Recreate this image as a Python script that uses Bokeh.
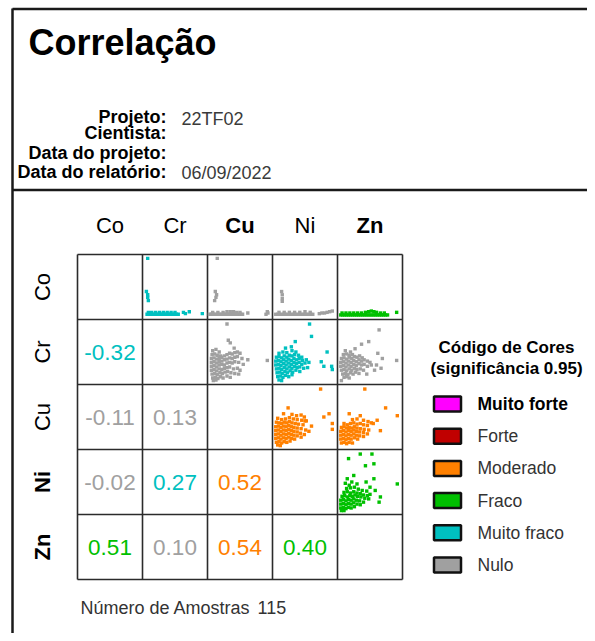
import numpy as np
from bokeh.plotting import figure
from bokeh.models import Range1d
from bokeh.core.properties import value
from bokeh.embed import file_html
from bokeh.resources import INLINE

# ---------------- data ----------------
elements = ["Co", "Cr", "Cu", "Ni", "Zn"]
pair_row = ["Co", "Co", "Co", "Co", "Cr", "Cr", "Cr", "Cu", "Cu", "Ni"]
pair_col = ["Cr", "Cu", "Ni", "Zn", "Cu", "Ni", "Zn", "Ni", "Zn", "Zn"]
corr_r = [-0.32, -0.11, -0.02, 0.51, 0.13, 0.27, 0.10, 0.52, 0.54, 0.40]
corr_class = ["Muito fraco", "Nulo", "Nulo", "Fraco", "Nulo", "Muito fraco",
              "Nulo", "Moderado", "Moderado", "Fraco"]

legend_labels = ["Muito forte", "Forte", "Moderado", "Fraco", "Muito fraco", "Nulo"]
legend_colors = ["#FF00FF", "#C00000", "#FF8000", "#00C000", "#00C0C0", "#A0A0A0"]

n_samples = 115
header_labels = ["Projeto:", "Cientista:", "Data do projeto:", "Data do relatório:"]
header_values = ["22TF02", "", "", "06/09/2022"]

# scatter clouds, in percent of each cell (x: left->right, y: bottom->top)
co_cr_x = [8, 6, 8, 8, 9, 7, 10, 13, 16, 19, 22, 25, 28, 31, 34, 37, 40, 43, 46, 49, 52, 55,
           9, 14, 20, 26, 32, 38, 44, 50, 63, 66, 72, 92]
co_cr_y = [94, 43, 38, 34, 29, 8, 8, 8, 8, 8, 8, 8, 8, 8, 8, 8, 8, 8, 8, 8, 8, 8,
           11, 11, 11, 11, 11, 11, 11, 11, 11, 9, 12, 9]

co_cu_x = [15, 12, 14, 13, 11, 3, 6, 9, 12, 15, 18, 21, 24, 27, 30, 33, 36, 39, 42, 45, 48, 51, 54,
           8, 16, 24, 30, 35, 40, 45, 50, 62, 90, 93, 92]
co_cu_y = [94, 43, 38, 34, 29, 8, 8, 8, 8, 8, 8, 8, 8, 8, 8, 8, 8, 8, 8, 8, 8, 8, 8,
           11, 11, 11, 12, 12, 12, 11, 11, 10, 8, 10, 12]

co_ni_x = [14, 15, 15, 15, 5, 8, 11, 14, 17, 20, 23, 26, 29, 32, 35, 38, 41, 44, 47, 50, 53, 56, 59, 62,
           10, 18, 26, 34, 42, 50, 58, 72, 76, 80, 84, 88, 92]
co_ni_y = [43, 38, 32, 28, 8, 8, 8, 8, 8, 8, 8, 8, 8, 8, 8, 8, 8, 8, 8, 8, 8, 8, 8, 8,
           11, 11, 11, 11, 11, 12, 11, 9, 10, 10, 11, 12, 13]

co_zn_x = [5, 8, 11, 14, 17, 20, 23, 26, 29, 32, 35, 38, 41, 44, 47, 50, 53, 56, 59, 62, 65, 68, 71, 74, 77,
           7, 13, 19, 25, 31, 37, 43, 48, 52, 56, 60, 66, 72, 91]
co_zn_y = [7, 7, 7, 7, 7, 7, 7, 7, 7, 7, 7, 7, 7, 7, 7, 7, 7, 7, 7, 7, 7, 7, 7, 7, 7,
           10, 10, 10, 10, 10, 10, 11, 12, 13, 12, 11, 10, 10, 11]

cr_cu_x = [30, 32, 35, 41, 62, 92,
           8, 13, 18, 7, 11, 15, 20,
           6, 10, 14, 18, 22, 26, 30, 34, 38, 42, 46, 50,
           6, 10, 14, 18, 22, 26, 30, 34, 38, 42, 46, 53,
           6, 10, 14, 18, 22, 26, 30, 34, 38, 42, 48, 55,
           6, 10, 14, 18, 22, 26, 30, 34, 40, 46, 50,
           7, 11, 15, 19, 23, 27, 31, 36, 42, 48,
           8, 12, 16, 20, 24, 30, 35, 9, 13]
cr_cu_y = [93, 68, 64, 56, 38, 37,
           52, 54, 50, 46, 47, 45, 44,
           40, 41, 39, 40, 42, 44, 46, 48, 47, 49, 50, 48,
           34, 35, 33, 35, 36, 38, 39, 41, 40, 42, 43, 40,
           28, 29, 27, 30, 31, 30, 33, 34, 33, 35, 34, 31,
           22, 23, 21, 24, 23, 25, 26, 27, 24, 25, 22,
           16, 17, 15, 18, 17, 19, 20, 18, 17, 16,
           10, 11, 9, 12, 10, 13, 11, 6, 7]

cr_ni_x = [57, 60, 35, 29, 84, 75, 79, 91, 92, 20,
           10, 16, 22, 30, 36,
           6, 10, 14, 18, 22, 26, 30, 34, 40, 45,
           5, 9, 13, 17, 21, 25, 29, 33, 37, 41, 46, 52,
           5, 9, 13, 17, 21, 25, 29, 33, 37, 41, 45, 50, 56,
           6, 10, 14, 18, 22, 26, 30, 34, 38, 42, 48, 54,
           7, 11, 15, 19, 23, 27, 31, 36, 42,
           8, 12, 16, 20, 25, 30, 10, 14]
cr_ni_y = [93, 74, 66, 58, 50, 35, 28, 28, 23, 56,
           48, 50, 49, 52, 50,
           42, 43, 41, 44, 42, 45, 44, 46, 45, 42,
           36, 37, 35, 38, 36, 39, 37, 40, 38, 40, 37, 38,
           30, 31, 29, 32, 30, 33, 31, 34, 32, 34, 31, 33, 34,
           24, 25, 23, 26, 24, 27, 25, 28, 26, 27, 25, 26,
           18, 19, 17, 20, 18, 21, 19, 22, 20,
           12, 13, 11, 14, 12, 15, 7, 6]

cr_zn_x = [64, 48, 37, 27, 62, 69, 91, 60, 67, 57, 6, 45,
           12, 20, 9, 14, 18, 23,
           6, 10, 14, 18, 22, 26, 30, 34, 38,
           5, 9, 13, 17, 21, 25, 29, 33, 37, 41, 46, 50,
           5, 9, 13, 17, 21, 25, 29, 33, 37, 41, 46, 52,
           6, 10, 14, 18, 22, 26, 30, 35, 40,
           8, 12, 16, 20, 24, 28, 33, 10, 14, 18]
cr_zn_y = [84, 66, 62, 55, 48, 40, 37, 30, 25, 22, 6, 16,
           52, 50, 46, 47, 45, 46,
           40, 41, 39, 42, 40, 43, 42, 44, 41,
           34, 35, 33, 36, 34, 37, 35, 38, 36, 38, 36, 34,
           28, 29, 27, 30, 28, 31, 29, 32, 30, 31, 28, 30,
           22, 23, 21, 24, 22, 25, 23, 24, 22,
           16, 17, 15, 18, 16, 19, 17, 11, 12, 10]

cu_ni_x = [74, 24, 17, 87, 79, 92, 92, 60, 52,
           30, 37, 44, 49,
           8, 14, 20, 26, 32, 38, 45, 50,
           6, 10, 14, 18, 22, 26, 30, 35, 40, 47,
           5, 9, 13, 17, 21, 25, 29, 33, 38, 44, 51, 56,
           5, 9, 13, 17, 21, 25, 29, 33, 38, 43, 49,
           5, 9, 13, 17, 21, 25, 29, 33, 38, 44,
           5, 9, 13, 17, 21, 25, 29, 34,
           6, 10, 14, 18, 22, 27, 8, 12]
cu_ni_y = [93, 64, 55, 55, 50, 40, 31, 36, 44,
           54, 52, 53, 50,
           48, 46, 47, 49, 47, 46, 45, 44,
           42, 41, 40, 42, 41, 43, 41, 40, 39, 38,
           35, 36, 34, 36, 35, 37, 35, 34, 33, 32, 30, 28,
           29, 30, 28, 30, 29, 31, 29, 28, 27, 25, 23,
           23, 24, 22, 24, 23, 25, 23, 22, 21, 19,
           17, 18, 16, 18, 17, 19, 17, 16,
           11, 12, 10, 12, 11, 13, 7, 6]

cu_zn_x = [42, 74, 92, 18, 35, 61, 66, 55,
           23, 30, 40, 47, 52,
           10, 15, 20, 25, 30, 35, 40, 46,
           6, 10, 14, 18, 22, 26, 30, 35, 41, 48,
           5, 9, 13, 17, 21, 25, 29, 34, 40, 46,
           5, 9, 13, 17, 21, 25, 29, 34, 40,
           5, 9, 13, 17, 21, 26, 31,
           6, 10, 14, 18, 23]
cu_zn_y = [93, 64, 52, 55, 52, 45, 29, 40,
           46, 47, 45, 43, 41,
           40, 38, 40, 41, 39, 40, 38, 37,
           34, 35, 33, 34, 33, 35, 33, 32, 31, 30,
           28, 29, 27, 29, 28, 30, 28, 27, 26, 24,
           22, 23, 21, 23, 22, 24, 22, 21, 20,
           16, 17, 15, 17, 16, 18, 16,
           10, 11, 9, 11, 10]

ni_zn_x = [35, 53, 17, 43, 56, 25, 15, 56, 92, 58, 66, 64, 50, 44,
           12, 18, 22, 30,
           14, 20, 26, 32, 38, 45,
           10, 15, 20, 25, 30, 35, 40, 46, 50,
           7, 11, 15, 19, 23, 27, 31, 36, 42, 48,
           5, 9, 13, 17, 21, 25, 29, 34, 40,
           5, 9, 13, 17, 21, 25, 30, 35,
           5, 9, 13, 17, 21, 26, 6, 10]
ni_zn_y = [93, 93, 86, 75, 78, 60, 55, 55, 47, 37, 27, 19, 42, 50,
           48, 45, 50, 47,
           40, 41, 42, 39, 37, 36,
           34, 35, 33, 35, 33, 32, 30, 29, 31,
           28, 29, 27, 29, 28, 30, 28, 27, 25, 24,
           22, 23, 21, 23, 22, 24, 22, 21, 19,
           16, 17, 15, 17, 16, 18, 16, 15,
           10, 11, 9, 11, 10, 12, 6, 6]

cloud_x = [co_cr_x, co_cu_x, co_ni_x, co_zn_x, cr_cu_x, cr_ni_x, cr_zn_x, cu_ni_x, cu_zn_x, ni_zn_x]
cloud_y = [co_cr_y, co_cu_y, co_ni_y, co_zn_y, cr_cu_y, cr_ni_y, cr_zn_y, cu_ni_y, cu_zn_y, ni_zn_y]

# ---------------- layout ----------------
FONT = value("Liberation Sans")
GX0, GY0, CELL = 77.0, 254.0, 65.0
color_of = dict(zip(legend_labels, legend_colors))

p = figure(width=587, height=633, x_range=Range1d(0, 587), y_range=Range1d(633, 0),
           output_backend="svg", toolbar_location=None, min_border=0,
           x_axis_type=None, y_axis_type=None)
p.outline_line_color = None
p.background_fill_color = "white"
p.border_fill_color = "white"

# frame lines
p.segment(x0=[12, 12, 12], y0=[8, 8.5, 189.5], x1=[12, 587, 587], y1=[633, 8.5, 189.5],
          line_color="#1a1a1a", line_width=2.5)

# title & header
p.text(x=[28], y=[42], text=["Correlação"], text_font=FONT, text_font_size="36px",
       text_font_style="bold", text_color="black", text_baseline="middle")
hy = [116, 132, 152, 171]
p.text(x=[166] * 4, y=hy, text=header_labels, text_font=FONT, text_font_size="18px",
       text_font_style="bold", text_color="black", text_align="right", text_baseline="middle")
p.text(x=[181] * 4, y=[118, 132, 152, 172], text=header_values, text_font=FONT, text_font_size="18px",
       text_color="#3a3a3a", text_align="left", text_baseline="middle")

# matrix grid
edges = [GX0 + CELL * k for k in range(6)]
yedges = [GY0 + CELL * k for k in range(6)]
p.segment(x0=edges, y0=[yedges[0]] * 6, x1=edges, y1=[yedges[-1]] * 6,
          line_color="#2b2b2b", line_width=1.6)
p.segment(x0=[edges[0]] * 6, y0=yedges, x1=[edges[-1]] * 6, y1=yedges,
          line_color="#2b2b2b", line_width=1.6)

# element labels
centers_x = [GX0 + CELL * (k + 0.5) for k in range(5)]
centers_y = [GY0 + CELL * (k + 0.5) for k in range(5)]
col_bold = ["normal", "normal", "bold", "normal", "bold"]
row_bold = ["normal", "normal", "normal", "bold", "bold"]
for k, el in enumerate(elements):
    p.text(x=[centers_x[k]], y=[225], text=[el], text_font=FONT, text_font_size="22px",
           text_font_style=col_bold[k], text_color="black", text_align="center",
           text_baseline="middle")
    p.text(x=[42], y=[centers_y[k]], text=[el], text_font=FONT, text_font_size="22px",
           text_font_style=row_bold[k], text_color="black", text_align="center",
           text_baseline="middle", angle=np.pi / 2)

# correlation values (lower) and scatter clouds (upper)
for r_el, c_el, r, cls, cx, cy in zip(pair_row, pair_col, corr_r, corr_class, cloud_x, cloud_y):
    i = elements.index(r_el)
    j = elements.index(c_el)
    col = color_of[cls]
    p.text(x=[centers_x[i]], y=[centers_y[j]], text=[f"{r:.2f}"], text_font=FONT,
           text_font_size="22.5px", text_color=col, text_align="center", text_baseline="middle")
    x0 = GX0 + CELL * j
    y1 = GY0 + CELL * (i + 1)
    xs = [x0 + v / 100.0 * CELL for v in cx]
    ys = [y1 - v / 100.0 * CELL for v in cy]
    p.scatter(x=xs, y=ys, marker="square", size=3.4, fill_color=col, line_color=None)

# legend
p.text(x=[506, 506], y=[347, 368], text=["Código de Cores", "(significância 0.95)"],
       text_font=FONT, text_font_size="17px", text_font_style="bold", text_color="black",
       text_align="center", text_baseline="middle")
leg_y = [403.5 + 32.2 * k for k in range(len(legend_labels))]
p.rect(x=[447] * len(leg_y), y=leg_y, width=27, height=15, fill_color=legend_colors,
       line_color="#111111", line_width=2.5)
styles = ["bold"] + ["normal"] * (len(legend_labels) - 1)
tcolors = ["black"] + ["#333333"] * (len(legend_labels) - 1)
for lab, yy, st, tc in zip(legend_labels, leg_y, styles, tcolors):
    p.text(x=[477], y=[yy], text=[lab], text_font=FONT, text_font_size="17.5px",
           text_font_style=st, text_color=tc, text_align="left", text_baseline="middle")

# sample count
p.text(x=[80, 257], y=[607, 607], text=["Número de Amostras", str(n_samples)], text_font=FONT,
       text_font_size="18px", text_color="#333333", text_align="left", text_baseline="middle")

open("out.html", "w").write(file_html(p, INLINE))
